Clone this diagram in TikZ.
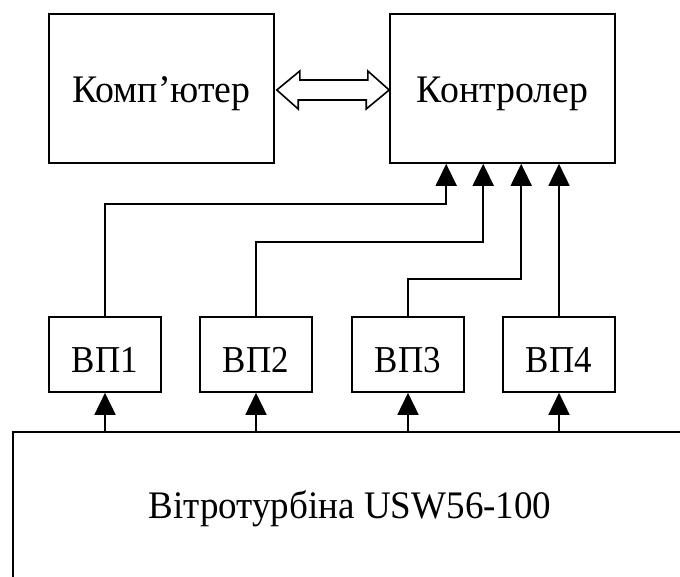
\documentclass[tikz,border=0pt]{standalone}
\usepackage{fontspec}
\setmainfont{Liberation Serif}
\usetikzlibrary{arrows.meta,calc}
\newcommand{\narrowtext}[2]{\scalebox{#1}[1]{#2}}
\begin{document}
\begin{tikzpicture}[x=1pt,y=-1pt,
  box/.style={draw,line width=1.6pt,inner sep=0pt,text depth=0pt},
  bigbox/.style={box,minimum width=225pt,minimum height=149pt,text height=27pt,font=\fontsize{39}{42}\selectfont},
  vpbox/.style={box,minimum width=112pt,minimum height=75pt,text height=35pt,font=\fontsize{38}{40}\selectfont},
  arr/.style={line width=1.6pt,-{Triangle[length=22pt,width=21pt]}},
  wire/.style={line width=1.6pt}]
\useasboundingbox (0,0) rectangle (680,576);
\clip (0,0) rectangle (680,576);
\node[bigbox] (comp) at (161.5,88.5) {\narrowtext{0.97}{Комп’ютер}};
\node[bigbox] (ctrl) at (502.5,88.5) {\narrowtext{0.97}{Контролер}};
\node[vpbox] (vp1) at (105,354.5) {\narrowtext{0.92}{ВП1}};
\node[vpbox] (vp2) at (256,354.5) {\narrowtext{0.92}{ВП2}};
\node[vpbox] (vp3) at (408,354.5) {\narrowtext{0.92}{ВП3}};
\node[vpbox] (vp4) at (559,354.5) {\narrowtext{0.92}{ВП4}};
\node[box,anchor=north west,minimum width=720pt,minimum height=200pt] (turb) at (12,431) {};
\node[font=\fontsize{39}{42}\selectfont,anchor=base,inner sep=0pt] (turbtext) at (350,518) {\narrowtext{0.95}{Вітротурбіна USW56-100}};
% double arrow
\draw[wire,fill=white]
  ($(comp.east)+(2,1.5)$) -- ++(23,-19) -- ++(0,9) -- ++(68,0) -- ++(0,-9)
  -- ($(ctrl.west)+(0,1.5)$) -- ++(-23,19) -- ++(0,-9) -- ++(-68,0) -- ++(0,9) -- cycle;
% controller inputs
\coordinate (c1) at ($(ctrl.south west)+(57,0)$);
\coordinate (c2) at ($(ctrl.south west)+(94,0)$);
\coordinate (c3) at ($(ctrl.south west)+(132,0)$);
\coordinate (c4) at (vp4.north |- ctrl.south);
\draw[arr] (vp1.north) -- (vp1.north |- 0,204) -| (c1);
\draw[arr] (vp2.north) -- (vp2.north |- 0,242) -| (c2);
\draw[arr] (vp3.north) -- (vp3.north |- 0,279) -| (c3);
\draw[arr] (vp4.north) -- (c4);
% turbine to sensors
\foreach \v in {vp1,vp2,vp3,vp4}
  \draw[arr] (\v.south |- turb.north) -- (\v.south);
\end{tikzpicture}
\end{document}
